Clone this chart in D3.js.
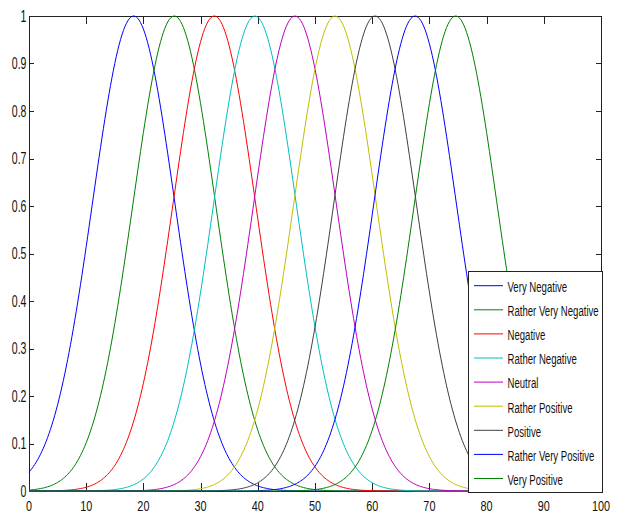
<!DOCTYPE html>
<html><head><meta charset="utf-8">
<script src="https://cdn.jsdelivr.net/npm/d3@7"></script>
<style>
html,body{margin:0;padding:0;background:#fff;}
text{font-family:"Liberation Sans",Arial,sans-serif;fill:#111;}
</style></head>
<body><svg id="c" width="621" height="514"></svg>
<script>
// Membership function data (Gaussian centers, common width)
const categories = ["Very Negative","Rather Very Negative","Negative","Rather Negative","Neutral","Rather Positive","Positive","Rather Very Positive","Very Positive"];
const centers = [18.3, 25.4, 32.4, 39.5, 46.5, 53.5, 60.5, 67.5, 74.6];
const sigmas  = [7.2, 7.2, 7.2, 7.2, 7.2, 7.2, 7.2, 7.2, 7.2];
const colors  = ["#0000ff","#008000","#ff0000","#00bfbf","#bf00bf","#bfbf00","#404040","#0000ff","#008000"];
const xTicks = [0,10,20,30,40,50,60,70,80,90,100];
const yTicks = [0,0.1,0.2,0.3,0.4,0.5,0.6,0.7,0.8,0.9,1];
const xDomain = [0,100];
const yDomain = [0,1];

const L=29, R=601, T=16, B=491;
const svg = d3.select("#c");
const x = d3.scaleLinear().domain(xDomain).range([L,R]);
const y = d3.scaleLinear().domain(yDomain).range([B,T]);

function narrowText(sel, px, py, txt, size, sx, anchor){
  return sel.append("text")
    .attr("transform",`translate(${px},${py}) scale(${sx},1)`)
    .attr("text-anchor",anchor||"start")
    .attr("font-size",size).text(txt);
}

const g = svg.append("g");
const axCol="#222";
g.append("line").attr("x1",L).attr("x2",R+1).attr("y1",T+0.5).attr("y2",T+0.5).attr("stroke",axCol);
g.append("line").attr("x1",L).attr("x2",R+1).attr("y1",B+0.5).attr("y2",B+0.5).attr("stroke",axCol);
g.append("line").attr("x1",L+0.5).attr("x2",L+0.5).attr("y1",T).attr("y2",B+1).attr("stroke",axCol);
g.append("line").attr("x1",R+0.5).attr("x2",R+0.5).attr("y1",T).attr("y2",B+1).attr("stroke",axCol);

xTicks.forEach(v=>{
  const px=Math.round(x(v))+0.5;
  g.append("line").attr("x1",px).attr("x2",px).attr("y1",B).attr("y2",B-8).attr("stroke",axCol);
  g.append("line").attr("x1",px).attr("x2",px).attr("y1",T).attr("y2",T+8).attr("stroke",axCol);
  narrowText(g, x(v), 510.5, d3.format("d")(v), 15.5, 0.7, "middle");
});
yTicks.forEach(v=>{
  const py=Math.round(y(v))+0.5;
  g.append("line").attr("x1",L).attr("x2",L+5).attr("y1",py).attr("y2",py).attr("stroke",axCol);
  g.append("line").attr("x1",R).attr("x2",R-5).attr("y1",py).attr("y2",py).attr("stroke",axCol);
  narrowText(g, 26.5, y(v)+5.8, v===0||v===1?String(v):d3.format(".1f")(v), 16, 0.66, "end");
});

const xs = d3.range(0,100.001,0.25);
const line = d3.line().x(d=>x(d[0])).y(d=>y(d[1]));
categories.forEach((c,i)=>{
  const pts = xs.map(t=>[t, Math.exp(-((t-centers[i])**2)/(2*sigmas[i]**2))]);
  svg.append("path").attr("d",line(pts)).attr("fill","none").attr("stroke",colors[i]).attr("stroke-width",1);
});

const lg = svg.append("g");
const lx=468, ly=271, lw=134, lh=221;
lg.append("rect").attr("x",lx+0.5).attr("y",ly+0.5).attr("width",lw).attr("height",lh).attr("fill","#fff").attr("stroke","#222").attr("stroke-width",1);
categories.forEach((c,i)=>{
  const cy = 285.7 + i*24.1;
  lg.append("line").attr("x1",474).attr("x2",503).attr("y1",cy).attr("y2",cy).attr("stroke",colors[i]).attr("stroke-width",1);
  narrowText(lg, 507.5, cy+6.3, c, 15, 0.64, "start");
});
</script></body></html>
